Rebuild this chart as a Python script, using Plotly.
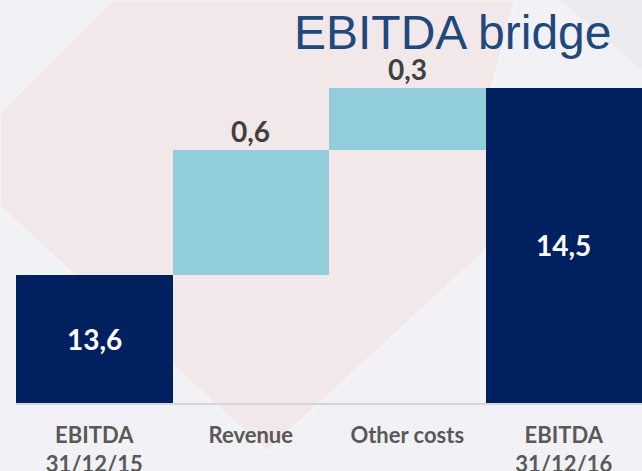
import plotly.graph_objects as go

categories = ["EBITDA<br>31/12/15", "Revenue", "Other costs", "EBITDA<br>31/12/16"]
values = [13.6, 0.6, 0.3, 14.5]
measures = ["absolute", "relative", "relative", "total"]
value_labels = ["13,6", "0,6", "0,3", "14,5"]

Y_MIN, Y_MAX = 12.984, 14.923
W, H = 642, 471

def px(x):
    return x / W

def py(y):
    return 1 - y / H

fig = go.Figure()
fig.add_trace(go.Waterfall(
    x=categories, y=values, measure=measures,
    increasing=dict(marker=dict(color="#92CDDC")),
    decreasing=dict(marker=dict(color="#92CDDC")),
    totals=dict(marker=dict(color="#002060")),
    connector=dict(visible=False),
    hoverinfo="skip", showlegend=False,
))

# value labels
running = 0
tops = []
for m, v in zip(measures, values):
    if m == "absolute":
        running = v
    elif m == "relative":
        running += v
    else:
        running = v
    tops.append(running)

annotations = []
for i, (m, lab, top) in enumerate(zip(measures, value_labels, tops)):
    if m in ("absolute", "total"):
        annotations.append(dict(x=categories[i], y=(Y_MIN + top) / 2, xref="x", yref="y",
                                text=f"<b>{lab}</b>", showarrow=False,
                                font=dict(family="Lato", size=28, color="#FFFFFF")))
    else:
        annotations.append(dict(x=categories[i], y=top, xref="x", yref="y",
                                text=f"<b>{lab}</b>", showarrow=False, yanchor="bottom", yshift=0,
                                font=dict(family="Lato", size=28, color="#404040")))

annotations.append(dict(x=px(613), y=py(33), xref="paper", yref="paper", xanchor="right",
                        yanchor="middle", text="EBITDA bridge", showarrow=False,
                        font=dict(family="Liberation Sans", size=48, color="#1F497D")))

bg_path = ("M {:.4f},{:.4f} L {:.4f},{:.4f} L {:.4f},{:.4f} L {:.4f},{:.4f} "
           "L {:.4f},{:.4f} L {:.4f},{:.4f} L {:.4f},{:.4f} Z").format(
    px(0), py(112), px(112), py(0), px(515), py(0), px(492), py(88),
    px(492), py(245), px(267), py(452), px(0), py(207))

shapes = [
    dict(type="path", xref="paper", yref="paper", path=(
        "M {:.4f},{:.4f} L {:.4f},{:.4f} L {:.4f},{:.4f} Z").format(
        px(560), py(0), px(642), py(0), px(642), py(70)),
        fillcolor="#EAEAEF", line=dict(width=0), layer="below"),
    dict(type="path", xref="paper", yref="paper", path=bg_path,
         fillcolor="#F2E7E9", line=dict(width=3, color="rgba(246,246,248,0.6)"), layer="below"),
]

fig.update_layout(
    width=W, height=H,
    margin=dict(l=0, r=0, t=0, b=0),
    paper_bgcolor="#F2F2F6", plot_bgcolor="rgba(0,0,0,0)",
    waterfallgap=0,
    xaxis=dict(domain=[px(16), 1], showgrid=False, zeroline=False, showline=True,
               linecolor="#D6D6D9", linewidth=2, ticks="", automargin=False,
               tickfont=dict(family="Lato", size=22, color="#595959"),
               ticklabelstandoff=12),
    yaxis=dict(domain=[1 - 403 / H, 1], range=[Y_MIN, Y_MAX], visible=False,
               showgrid=False, zeroline=False, automargin=False),
    annotations=annotations,
    shapes=shapes,
)

# bold tick labels
fig.update_xaxes(tickvals=categories, ticktext=[f"<b>{c}</b>" for c in categories])

fig.write_html("out.html", config={"displayModeBar": False},
               post_script="document.body.style.margin='0';document.body.style.overflow='hidden';")
